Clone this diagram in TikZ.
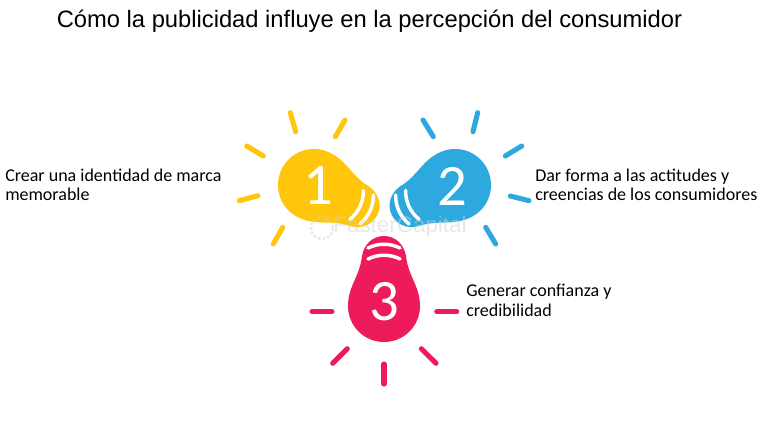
\documentclass[tikz,border=0pt]{standalone}
\usepackage{fontspec}
\setmainfont{Carlito}
\newfontfamily\titlefont{Liberation Sans}

\definecolor{bulbyellow}{HTML}{FFC60B}
\definecolor{bulbblue}{HTML}{2EA9DF}
\definecolor{bulbpink}{HTML}{ED1B59}

\newcommand{\bulbshape}[3]{
    \begin{scope}[shift={(#1)},rotate=#2]
        \fill[#3] (0,36) .. controls (20,36) and (36,20) .. (36,0)
            .. controls (36,-20) and (24,-30) .. (22,-50)
            .. controls (20,-62) and (11,-70) .. (0,-70)
            .. controls (-11,-70) and (-20,-62) .. (-22,-50)
            .. controls (-24,-30) and (-36,-20) .. (-36,0)
            .. controls (-36,20) and (-20,36) .. (0,36) -- cycle;
        \draw[stripe] (-16,-58) .. controls (-6,-63) and (6,-63) .. (16,-58);
        \draw[stripe] (-16,-47) .. controls (-6,-52) and (6,-52) .. (16,-47);
    \end{scope}
}

\begin{document}
\begin{tikzpicture}[x=0.75pt,y=-0.75pt,
    stripe/.style={white,line width=2.6pt,line cap=round},
    ray/.style={line width=3.8pt,line cap=round},
    num node/.style={white,font=\fontsize{44}{44}\selectfont,inner sep=0pt},
    label node/.style={anchor=west,align=left,inner sep=0pt,font=\fontsize{13.5}{14.6}\selectfont},
    mark node/.style={gray!35,opacity=0.5,inner sep=0pt,font=\titlefont\fontsize{16.8}{16.8}\selectfont}]

    \useasboundingbox (0,0) rectangle (768,429);
    \fill[white] (0,0) rectangle (768,429);

    \node[] (title) [inner sep=0pt,font=\titlefont\fontsize{17.8}{20}\selectfont] at (369.5,21) {Cómo la publicidad influye en la percepción del consumidor};

    % bulbs
    \bulbshape{314,185}{-115}{bulbyellow}
    \bulbshape{455,185}{115}{bulbblue}
    \bulbshape{384,306}{0}{bulbpink}

    \node[] (one) [num node] at (318,186) {1};
    \node[] (two) [num node] at (452,186) {2};
    \node[] (three) [num node] at (384,302) {3};

    % rays
    \foreach \xa/\ya/\xb/\yb in {290.3/112.7/295.7/131.7, 345/120/335.3/136.7, 246.7/146/263.3/156, 239.3/200.7/258/195.7, 282.7/227.3/273.3/244}
        \draw[ray,bulbyellow] (\xa,\ya) -- (\xb,\yb);
    \foreach \xa/\ya/\xb/\yb in {477.7/112.7/473/131.7, 423/120/433.3/136.7, 521.7/146/505.3/156, 510.3/196/529/200.7, 485.7/227.3/495.7/244}
        \draw[ray,bulbblue] (\xa,\ya) -- (\xb,\yb);
    \foreach \xa/\ya/\xb/\yb in {312/311.7/332/311.7, 436.7/311.7/456.7/311.7, 347.3/348.7/332.7/363.3, 421.3/348.7/436/363.3, 384/364/384/384}
        \draw[ray,bulbpink] (\xa,\ya) -- (\xb,\yb);

    % labels
    \node[] (crear) [label node] at (5,185) {Crear una identidad de marca\\memorable};
    \node[] (dar) [label node] at (535,185) {Dar forma a las actitudes y\\creencias de los consumidores};
    \node[] (generar) [label node] at (466,300.5) {Generar confianza y\\credibilidad};

    % watermark
    \node[] (mark) [mark node] at (400,227) {FasterCapital};
    \draw[gray!35,opacity=0.5,line width=1.6pt,dash pattern=on 2pt off 1.5pt] (322,228) circle (11);
\end{tikzpicture}
\end{document}
